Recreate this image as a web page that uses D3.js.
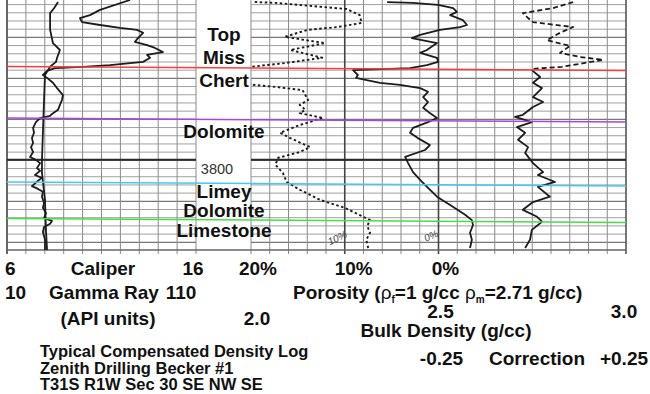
<!DOCTYPE html>
<html>
<head>
<meta charset="utf-8">
<script src="https://cdn.jsdelivr.net/npm/d3@7"></script>
<style>
  body { margin: 0; background: #fff; }
  svg { display: block; }
  text { font-family: "Liberation Sans", Arial, sans-serif; fill: #111; }
</style>
</head>
<body>
<svg id="chart"></svg>
<script>
// log curves, [depth ft, reading]
const caliper = [
  [3761.5, 8.70], [3763.0, 8.49], [3764.2, 8.28], [3768.3, 8.28], [3771.5, 8.43],
  [3773.2, 8.80], [3775.1, 8.65], [3776.1, 8.59], [3777.3, 8.28], [3779.3, 8.01],
  [3785.4, 7.96], [3793.4, 7.90], [3800.0, 7.85], [3803.2, 7.85], [3809.8, 8.01],
  [3817.1, 8.06], [3822.0, 8.12]
];
const gammaRay = [
  [3761.0, 75.1], [3763.4, 59.2], [3764.7, 53.9], [3765.4, 48.6], [3766.4, 49.7],
  [3767.1, 59.2], [3767.8, 69.8], [3768.3, 78.8], [3769.0, 82.0], [3770.3, 79.3],
  [3771.2, 77.7], [3772.0, 84.1], [3772.7, 88.3], [3773.7, 92.5], [3774.4, 84.1],
  [3775.1, 85.7], [3776.1, 82.0], [3776.9, 64.5], [3777.3, 50.2], [3777.6, 35.4],
  [3778.3, 31.2], [3779.3, 29.0], [3780.0, 31.2], [3781.2, 34.3], [3782.5, 36.5],
  [3784.2, 39.6], [3785.4, 39.1], [3786.6, 38.0], [3787.8, 37.0], [3788.8, 33.8],
  [3789.3, 32.8], [3789.8, 27.5], [3790.8, 25.3], [3792.2, 23.8], [3793.4, 24.3],
  [3794.7, 23.2], [3795.9, 23.8], [3796.9, 22.7], [3798.1, 23.8], [3799.3, 22.2],
  [3800.0, 25.3], [3800.8, 27.5], [3802.0, 25.9], [3802.7, 27.5], [3803.7, 24.8],
  [3804.4, 28.5], [3805.1, 26.4], [3806.4, 23.2], [3807.1, 26.4], [3807.8, 29.0],
  [3809.0, 28.5], [3810.5, 29.6], [3811.7, 29.0], [3813.0, 30.6], [3814.2, 29.6],
  [3814.9, 33.8], [3815.6, 32.8], [3816.4, 29.6], [3817.6, 29.0], [3819.5, 30.1],
  [3822.0, 30.1]
];
// porosity in %, null = curve off scale
const porosity = [
  [3761.5, 19.6], [3761.7, 17.4], [3763.2, 9.8], [3764.7, 8.4], [3766.6, 8.2],
  [3767.6, 10.8], [3768.3, 14.0], [3770.0, 16.4], [3771.5, 12.1], [3773.2, 15.8],
  [3775.1, 12.4], [3776.4, 16.4], [3777.3, 20.0], [3779.0, null],
  [3781.7, 19.8], [3782.2, 17.4], [3783.0, 14.5], [3785.4, 13.9], [3786.6, 14.8],
  [3787.8, 14.2], [3788.6, 14.8], [3789.8, 12.3], [3791.5, 14.8], [3793.4, 16.9],
  [3794.7, 15.8], [3796.9, 13.7], [3798.1, 14.8], [3799.5, 17.1], [3801.2, 17.4],
  [3803.2, 16.6], [3805.4, 16.2], [3807.3, 14.8], [3809.8, 12.6], [3811.7, 10.0],
  [3814.7, 7.3], [3816.1, 7.6], [3817.8, 7.3], [3819.5, 7.7], [3821.5, 7.5]
];
const bulkDensity = [
  [3761.5, 2.363], [3761.7, 2.432], [3762.2, 2.499], [3763.0, 2.539], [3763.9, 2.549],
  [3764.7, 2.531], [3765.9, 2.565], [3767.1, 2.576], [3767.6, 2.557], [3768.3, 2.504],
  [3769.5, 2.451], [3770.3, 2.429], [3771.5, 2.496], [3773.2, 2.469], [3773.9, 2.451],
  [3775.1, 2.496], [3776.1, 2.499], [3776.9, 2.469], [3777.6, 2.424], [3778.1, 2.272],
  [3779.3, 2.285], [3780.0, 2.280], [3781.2, 2.344], [3781.7, 2.397], [3782.5, 2.451],
  [3783.4, 2.472], [3784.7, 2.459], [3785.9, 2.472], [3787.3, 2.459], [3788.6, 2.477],
  [3789.8, 2.496], [3790.8, 2.472], [3792.2, 2.432], [3793.4, 2.424], [3794.7, 2.445],
  [3796.4, 2.477], [3797.6, 2.464], [3799.3, 2.411], [3800.8, 2.419], [3803.0, 2.432],
  [3804.9, 2.451], [3806.1, 2.464], [3809.0, 2.496], [3811.0, 2.531], [3813.4, 2.571],
  [3814.7, 2.589], [3815.9, 2.592], [3817.8, 2.584], [3819.5, 2.589], [3821.5, 2.584]
];
const correctionUpper = [
  [3761.5, 0.109], [3763.0, 0.055], [3764.2, -0.025], [3765.4, -0.011], [3766.4, 0.002],
  [3767.6, 0.109], [3769.0, 0.074], [3770.8, 0.039], [3772.2, 0.101], [3773.9, 0.074],
  [3774.9, 0.127], [3775.6, 0.189], [3777.3, 0.079], [3777.8, 0.002]
];
const correction = [
  [3778.1, -0.001], [3779.8, 0.021], [3781.2, 0.002], [3782.5, 0.026], [3784.7, 0.002],
  [3785.9, 0.029], [3787.1, 0.002], [3789.0, -0.025], [3789.5, -0.046], [3790.8, -0.001],
  [3792.0, -0.041], [3793.4, -0.019], [3795.1, -0.038], [3796.9, -0.011], [3798.3, -0.019],
  [3800.8, 0.002], [3803.0, 0.029], [3803.7, 0.015], [3805.4, 0.061], [3806.6, 0.015],
  [3809.0, 0.047], [3810.3, 0.002], [3812.2, -0.025], [3813.9, 0.013], [3815.1, 0.026],
  [3817.1, -0.001], [3819.5, -0.006], [3821.5, -0.019]
];

// formation tops
const topDepths = [3777.2, 3789.8, 3805.4, 3814.3];
const topColors = ['#ff3b3b', '#a845dc', '#45c8f2', '#45e045'];
const zoneLabels = ['Top', 'Miss', 'Chert', 'Dolomite', 'Limey', 'Dolomite', 'Limestone'];
const zoneLabelY = [41, 64, 87, 138, 198, 217, 237];

const W = 650, H = 394;
const svg = d3.select('#chart').attr('width', W).attr('height', H);
svg.append('rect').attr('width', W).attr('height', H).attr('fill', '#fff');

// scales
const depthY = d3.scaleLinear().domain([3761, 3822]).range([0, 250]);
const caliperX = d3.scaleLinear().domain([6, 16]).range([7, 196]);
const grX = d3.scaleLinear().domain([10, 110]).range([7, 196]);
const porX = d3.scaleLinear().domain([20, -20]).range([251, 626]);
const rhoX = d3.scaleLinear().domain([2.0, 3.0]).range([251, 626]);
const corrX = d3.scaleLinear().domain([-0.25, 0.25]).range([438.5, 626]);

const tracks = [[7, 196], [251, 626]];
const grid = svg.append('g').attr('class', 'grid');

// depth lines every 2 ft
const depths = d3.range(3762, 3822, 2);
tracks.forEach(([x0, x1]) => {
  grid.selectAll(null).data(depths).join('line')
    .attr('x1', x0).attr('x2', x1)
    .attr('y1', d => depthY(d) + 0.5).attr('y2', d => depthY(d) + 0.5)
    .attr('stroke', d => d % 10 === 0 ? '#777' : '#a0a0a0')
    .attr('stroke-width', d => d % 10 === 0 ? 1.2 : 1);
});

// vertical lines
grid.selectAll(null).data(caliperX.ticks(10)).join('line')
  .attr('x1', d => caliperX(d)).attr('x2', d => caliperX(d))
  .attr('y1', 0).attr('y2', 254)
  .attr('stroke', (d, i) => i === 0 ? '#666' : '#8a8a8a')
  .attr('stroke-width', (d, i) => i === 0 ? 2 : 1);
grid.selectAll(null).data(d3.range(20, -21, -2)).join('line')
  .attr('x1', d => porX(d)).attr('x2', d => porX(d))
  .attr('y1', 0).attr('y2', 254)
  .attr('stroke', d => (d === 10 || d === 0) ? '#444' : (d === -20 ? '#555' : '#8a8a8a'))
  .attr('stroke-width', d => (d === 10 || d === 0 || d === -20) ? 1.6 : 1);

// bottom edge
grid.append('line').attr('x1', 7).attr('x2', 626)
  .attr('y1', depthY(3822)).attr('y2', depthY(3822))
  .attr('stroke', '#666').attr('stroke-width', 1.5);

// 3800 ft marker
tracks.forEach(([x0, x1]) => {
  grid.append('line').attr('x1', x0).attr('x2', x1)
    .attr('y1', depthY(3800)).attr('y2', depthY(3800))
    .attr('stroke', '#2a2a2a').attr('stroke-width', 2);
});
svg.append('text').attr('x', 217).attr('y', 174).attr('text-anchor', 'middle')
  .style('font-size', '14.5px').style('fill', '#333').text('3800');

// curves
const curves = svg.append('g').attr('class', 'curves')
  .attr('fill', 'none').attr('stroke', '#1c1c1c').attr('stroke-linejoin', 'round');

const drawCurve = (data, xs, dash, width) => curves.append('path')
  .datum(data)
  .attr('d', d3.line().defined(d => d[1] !== null).x(d => xs(d[1])).y(d => depthY(d[0])))
  .attr('stroke-width', width)
  .attr('stroke-dasharray', dash);

drawCurve(caliper, caliperX, null, 1.8);
drawCurve(gammaRay, grX, null, 1.8);
drawCurve(porosity, porX, '2.5,2.5', 1.9);
drawCurve(bulkDensity, rhoX, null, 1.8);
drawCurve(correctionUpper, corrX, '5,3', 1.8);
drawCurve(correction, corrX, null, 1.8);

// formation top lines (scan is slightly tilted)
const tilt = 4;
svg.append('g').selectAll('line').data(topDepths).join('line')
  .attr('x1', 7).attr('x2', 626)
  .attr('y1', d => depthY(d)).attr('y2', d => depthY(d) + tilt)
  .attr('stroke', (d, i) => topColors[i]).attr('stroke-width', 1.5);

// zone names
svg.append('g').selectAll('text').data(zoneLabels).join('text')
  .attr('x', 224).attr('y', (d, i) => zoneLabelY[i])
  .attr('text-anchor', 'middle')
  .style('font-size', '19px').style('font-weight', 'bold')
  .text(d => d);

// handwritten scale notes
[['10%', 10, 241], ['0%', 0, 239]].forEach(([t, v, y]) => {
  svg.append('text').attr('transform', `translate(${porX(v) - 6},${y}) rotate(-25)`)
    .attr('text-anchor', 'middle')
    .style('font-size', '10px').style('font-style', 'italic').style('fill', '#444')
    .text(t);
});

// scale labels under the tracks
const lab = (x, y, t, anchor) => svg.append('text')
  .attr('x', x).attr('y', y).attr('text-anchor', anchor || 'middle')
  .style('font-size', '19px').style('font-weight', 'bold').text(t);

lab(5, 275, '6', 'start');
lab(103, 275, 'Caliper');
lab(193, 275, '16');
lab(porX(20) + 7, 275, '20%');
lab(porX(10) + 9, 275, '10%');
lab(porX(0) + 7, 275, '0%');

lab(5, 299, '10', 'start');
lab(104, 299, 'Gamma Ray');
lab(181, 299, '110');
const por = lab(293, 299, '', 'start');
por.append('tspan').text('Porosity (');
por.append('tspan').style('font-weight', 'normal').text('ρ');
por.append('tspan').attr('dy', 4).style('font-size', '10px').text('f');
por.append('tspan').attr('dy', -4).text('=1 g/cc ');
por.append('tspan').style('font-weight', 'normal').text('ρ');
por.append('tspan').attr('dy', 4).style('font-size', '10px').text('m');
por.append('tspan').attr('dy', -4).text('=2.71 g/cc)');

lab(108, 325, '(API units)');
lab(rhoX(2.0) + 6, 325, '2.0');
lab(rhoX(2.5) + 2, 318, '2.5');
lab(rhoX(3.0) - 2, 318, '3.0');
lab(446, 337, 'Bulk Density (g/cc)');
lab(corrX(-0.25) + 3, 365, '-0.25');
lab(537, 365, 'Correction');
lab(corrX(0.25) - 2, 365, '+0.25');

// well info
const info = ['Typical Compensated Density Log', 'Zenith Drilling Becker #1', 'T31S R1W Sec 30 SE NW SE'];
svg.append('g').selectAll('text').data(info).join('text')
  .attr('x', 40).attr('y', (d, i) => 357 + i * 16.7)
  .style('font-size', '16.5px').style('font-weight', 'bold')
  .text(d => d);
</script>
</body>
</html>
